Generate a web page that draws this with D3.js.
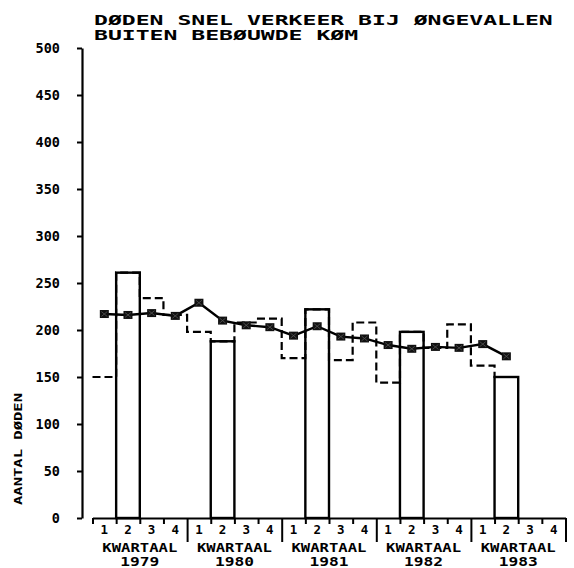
<!DOCTYPE html>
<html>
<head>
<meta charset="utf-8">
<script src="https://cdn.jsdelivr.net/npm/d3@7"></script>
<style>
  body { margin: 0; background: #fff; }
  text { font-family: "DejaVu Sans Mono", monospace; font-weight: bold; fill: #000; }
</style>
</head>
<body>
<div id="chart"></div>
<script>
// quarterly data 1979 - 1983
var years = ["1979", "1980", "1981", "1982", "1983"];
var quarters = ["1", "2", "3", "4"];
var deaths = [150, 261, 234, 216, 198, 188, 208, 212, 170, 222, 168, 208, 144, 198, 181, 206, 162, 150];
var trend = [217, 216, 218, 215, 229, 210, 205, 203, 194, 204, 193, 191, 184, 180, 182, 181, 185, 172];
var yTicks = [0, 50, 100, 150, 200, 250, 300, 350, 400, 450, 500];
var titleLines = ["DØDEN SNEL VERKEER BIJ ØNGEVALLEN", "BUITEN BEBØUWDE KØM"];
var yLabel = "AANTAL DØDEN";
var quarterWord = "KWARTAAL";

var width = 574,
    height = 568;

var svg = d3.select("#chart")
    .append("svg")
    .attr("width", width)
    .attr("height", height)

var x = d3.scaleLinear().domain([0, years.length * 4]).range([92.5, 565.5])
var y = d3.scaleLinear().domain([0, 500]).range([518, 48])

// title
svg.selectAll(".title")
    .data(titleLines)
    .enter().append("text")
    .attr("class", "title")
    .attr("x", 94)
    .attr("y", function(d, i) { return 25 + i * 15 })
    .attr("font-size", 14)
    .attr("textLength", function(d) { return d.length * 13.9 })
    .attr("lengthAdjust", "spacingAndGlyphs")
    .text(function(d) { return d })

// y axis
var yAxis = svg.append("g")
    .attr("transform", "translate(82,0)")
    .call(d3.axisLeft(y).tickValues(yTicks).tickSize(5).tickSizeOuter(0))

yAxis.select(".domain").attr("stroke-width", 2.2)
yAxis.selectAll("line").attr("stroke-width", 2)
yAxis.selectAll("text")
    .attr("x", -22)
    .attr("dy", "0.3em")
    .attr("font-size", 13.5)
    .attr("font-family", "DejaVu Sans Mono")
    .attr("font-weight", "bold")

svg.append("text")
    .attr("transform", "translate(22,449) rotate(-90)")
    .attr("text-anchor", "middle")
    .attr("font-size", 11)
    .attr("textLength", 112)
    .attr("lengthAdjust", "spacingAndGlyphs")
    .text(yLabel)

// x axis
var xAxis = svg.append("g")
    .attr("transform", "translate(0,518)")
    .call(d3.axisBottom(x).tickValues(d3.range(0, years.length * 4 + 1)).tickSize(5).tickSizeOuter(0).tickFormat(""))

xAxis.select(".domain").attr("stroke-width", 2.2)
xAxis.selectAll(".tick line")
    .attr("stroke-width", 2)
    .attr("y2", function(d) { return (d % 4 == 0 && d > 0) ? 24 : 6 })

var qLabels = []
years.forEach(function(yr, yi) {
    quarters.forEach(function(q, qi) {
        qLabels.push({ q: q, i: yi * 4 + qi })
    })
})

svg.selectAll(".qlab")
    .data(qLabels)
    .enter().append("text")
    .attr("class", "qlab")
    .attr("x", function(d) { return x(d.i + 0.5) })
    .attr("y", 534)
    .attr("text-anchor", "middle")
    .attr("font-size", 12.5)
    .text(function(d) { return d.q })

svg.selectAll(".kw")
    .data(years)
    .enter().append("text")
    .attr("class", "kw")
    .attr("x", function(d, i) { return x(i * 4 + 2) })
    .attr("y", 552)
    .attr("text-anchor", "middle")
    .attr("font-size", 13)
    .attr("textLength", 75)
    .attr("lengthAdjust", "spacingAndGlyphs")
    .text(quarterWord)

svg.selectAll(".yr")
    .data(years)
    .enter().append("text")
    .attr("class", "yr")
    .attr("x", function(d, i) { return x(i * 4 + 2) })
    .attr("y", 566)
    .attr("text-anchor", "middle")
    .attr("font-size", 13)
    .attr("textLength", 39)
    .attr("lengthAdjust", "spacingAndGlyphs")
    .text(function(d) { return d })

// dashed step outline for all quarters
var steps = []
deaths.forEach(function(v, i) {
    steps.push([i, v])
    steps.push([i + 1, v])
})

svg.append("path")
    .datum(steps)
    .attr("fill", "none")
    .attr("stroke", "#000")
    .attr("stroke-width", 2.2)
    .attr("stroke-dasharray", "8,4")
    .attr("d", d3.line()
        .x(function(d) { return x(d[0]) })
        .y(function(d) { return y(d[1]) }))

// second quarter drawn as solid bars
var q2 = deaths.map(function(v, i) { return { v: v, i: i } })
    .filter(function(d) { return d.i % 4 == 1 })

svg.selectAll(".bar")
    .data(q2)
    .enter().append("rect")
    .attr("class", "bar")
    .attr("x", function(d) { return x(d.i) })
    .attr("width", function(d) { return x(d.i + 1) - x(d.i) })
    .attr("y", function(d) { return y(d.v) })
    .attr("height", function(d) { return y(0) - y(d.v) })
    .attr("fill", "none")
    .attr("stroke", "#000")
    .attr("stroke-width", 2.4)

// trend line with markers
svg.append("path")
    .datum(trend)
    .attr("fill", "none")
    .attr("stroke", "#000")
    .attr("stroke-width", 2.4)
    .attr("d", d3.line()
        .x(function(d, i) { return x(i + 0.5) })
        .y(function(d) { return y(d) }))

svg.selectAll(".mark")
    .data(trend)
    .enter().append("rect")
    .attr("class", "mark")
    .attr("x", function(d, i) { return x(i + 0.5) - 4.5 })
    .attr("y", function(d) { return y(d) - 4 })
    .attr("width", 9)
    .attr("height", 8)
    .attr("fill", "#111")

svg.selectAll(".markx")
    .data(trend)
    .enter().append("path")
    .attr("class", "markx")
    .attr("d", function(d, i) {
        var cx = x(i + 0.5), cy = y(d)
        return "M" + (cx - 3) + "," + (cy - 2.5) + "L" + (cx + 3) + "," + (cy + 2.5) +
            "M" + (cx - 3) + "," + (cy + 2.5) + "L" + (cx + 3) + "," + (cy - 2.5)
    })
    .attr("stroke", "#555")
    .attr("stroke-width", 0.8)
</script>
</body>
</html>
